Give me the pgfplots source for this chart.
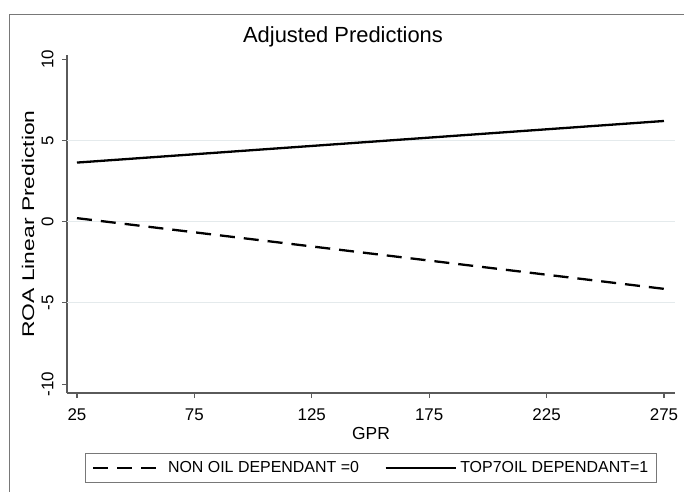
\documentclass[border=0pt]{standalone}
\usepackage{fontspec}
\setmainfont{Liberation Sans}
\usepackage{pgfplots}
\pgfplotsset{compat=1.18}
\definecolor{gridc}{RGB}{228,234,236}
\definecolor{axc}{RGB}{90,90,90}
\definecolor{framec}{RGB}{120,120,120}
\begin{document}
\begin{tikzpicture}
\path[use as bounding box] (0,0) rectangle (684bp,-492bp);
\draw[framec, line width=1.2bp] (9.5bp,-492bp) -- (9.5bp,-14.5bp) -- (684bp,-14.5bp);
\node[anchor=base, font=\fontsize{22}{26}\selectfont] at (343bp,-42bp) {Adjusted Predictions};
\begin{axis}[
  at={(67bp,-393bp)}, anchor=south west,
  scale only axis, width=608bp, height=338bp,
  xmin=20.75, xmax=279.7, ymin=-10.55, ymax=10.25,
  axis x line*=bottom, axis y line*=left,
  axis line style={axc, line width=1.1bp, -},
  xtick={25,75,125,175,225,275},
  ytick={-10,-5,0,5,10},
  tick align=outside, major tick length=5bp,
  tick style={axc, line width=1.1bp},
  /pgf/number format/assume math mode=true,
  xticklabel style={font=\fontsize{17}{20}\selectfont, yshift=-7bp},
  yticklabel style={font=\fontsize{17}{20}\selectfont, xshift=-5bp, rotate=90, anchor=south},
  extra y ticks={-5,0,5},
  extra y tick labels={},
  extra y tick style={grid=major, major tick length=0pt, major grid style={gridc, line width=0.9bp}},
  xlabel={GPR},
  xlabel style={font=\fontsize{17.5}{20}\selectfont, at={(axis description cs:0.5,-0.139)}, anchor=base},
  ylabel={ROA Linear Prediction},
  ylabel style={font=\fontsize{17}{20}\selectfont, at={(axis description cs:-0.0641,0.5)}, anchor=center, xscale=1.35},
  legend columns=2,
  legend style={at={(axis description cs:0.5,-0.222)}, anchor=center,
    draw=framec, line width=1.2bp, font=\fontsize{16}{19}\selectfont,
    inner xsep=7bp, inner ysep=7bp,
    nodes={inner sep=1.5bp},
    /tikz/every even column/.append style={column sep=24bp},
    /tikz/every odd column/.append style={column sep=2bp}},
  legend image code/.code={\draw[#1] (0bp,0bp) -- (70bp,0bp);},
]
\addplot[black, line width=2.3bp, dash pattern=on 15bp off 9bp] coordinates {(25,0.21) (275,-4.14)};
\addlegendentry{NON OIL DEPENDANT =0}
\addplot[black, line width=2.3bp] coordinates {(25,3.63) (275,6.19)};
\addlegendentry{TOP7OIL DEPENDANT=1}
\end{axis}
\end{tikzpicture}
\end{document}
